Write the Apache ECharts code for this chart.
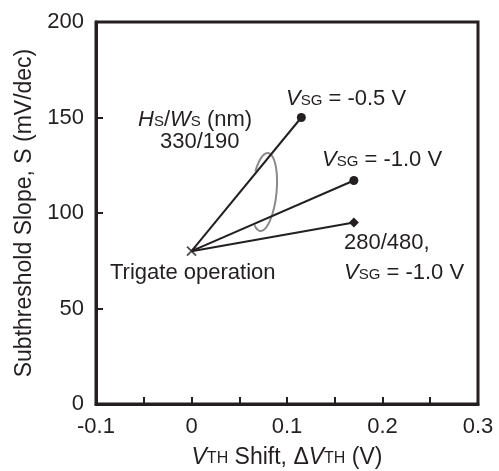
<!DOCTYPE html>
<html>
<head>
<meta charset="utf-8">
<script src="https://cdn.jsdelivr.net/npm/echarts@6/dist/echarts.min.js"></script>
<style>
  html, body { margin: 0; padding: 0; background: #fff; }
  #chart { width: 499px; height: 471px; }
</style>
</head>
<body>
<div id="chart"></div>
<script>
// tick labels
const xTicks = [-0.1, 0, 0.1, 0.2, 0.3]
const yTicks = [0, 50, 100, 150, 200]

// trigate operating point (VTH shift, S)
const trigate = [0, 80]

// back-gate results: 330/190 @ -0.5 V, 330/190 @ -1.0 V, 280/480 @ -1.0 V
const vthShift = [0.115, 0.17, 0.17]
const slope = [150, 117, 95]
const endSymbols = ['circle', 'circle', 'diamond']

// gray loop grouping the two 330/190 lines (data units)
const loopCenter = [0.076, 111]
const loopRadius = [0.013, 20.5]

const FONT = '"Liberation Sans", Arial, Helvetica, sans-serif'
const INK = '#231f20'
const FS = 22

function richOf(size) {
  return {
    i: { fontStyle: 'italic', fontSize: size, fontFamily: FONT, color: INK, fill: INK, verticalAlign: 'bottom' },
    s: { fontSize: Math.round(size * 0.68), fontFamily: FONT, color: INK, fill: INK, verticalAlign: 'bottom', padding: [0, 0, 2, 0] },
    n: { fontSize: size, fontFamily: FONT, color: INK, fill: INK, verticalAlign: 'bottom' }
  }
}

// text notes, pixel placement (left edge, vertical middle)
const notes = [
  { text: '{i|H}{s|S}{n|/}{i|W}{s|S}{n| (nm)}', x: 138, y: 120 },
  { text: '{n|330/190}', x: 160, y: 142 },
  { text: '{i|V}{s|SG}{n| = -0.5 V}', x: 286, y: 99 },
  { text: '{i|V}{s|SG}{n| = -1.0 V}', x: 322, y: 160 },
  { text: '{n|280/480,}', x: 344, y: 243 },
  { text: '{i|V}{s|SG}{n| = -1.0 V}', x: 344, y: 273 },
  { text: '{n|Trigate operation}', x: 110, y: 273 }
]

function tickLabel(list) {
  return function (v) {
    const hit = list.find(t => Math.abs(t - v) < 1e-9)
    return hit === undefined ? '' : String(hit)
  }
}

const lineSeries = vthShift.map((x, i) => ({
  type: 'line',
  z: 3,
  data: [
    { value: trigate, symbol: 'none' },
    { value: [x, slope[i]], symbol: endSymbols[i], symbolSize: endSymbols[i] === 'diamond' ? 10 : 9 }
  ],
  lineStyle: { color: INK, width: 2 },
  itemStyle: { color: INK },
  animation: false
}))

const option = {
  animation: false,
  grid: {
    left: 96, right: 21, top: 22, bottom: 67,
    show: true, borderColor: INK, borderWidth: 3,
    outerBoundsMode: 'none'
  },
  xAxis: {
    type: 'value',
    min: -0.1, max: 0.3, interval: 0.05,
    name: '{i|V}{s|TH}{n| Shift, Δ}{i|V}{s|TH}{n| (V)}',
    nameLocation: 'middle', nameGap: 42,
    nameTextStyle: { rich: richOf(23) },
    axisLine: { onZero: false, lineStyle: { color: INK, width: 3 } },
    axisTick: { inside: true, length: 7, lineStyle: { color: INK, width: 2 } },
    axisLabel: { formatter: tickLabel(xTicks), fontSize: FS, fontFamily: FONT, color: INK, margin: 12, showMinLabel: true, showMaxLabel: true },
    splitLine: { show: false }
  },
  yAxis: {
    type: 'value',
    min: 0, max: 200, interval: 50,
    name: 'Subthreshold Slope, S (mV/dec)',
    nameLocation: 'middle', nameGap: 59,
    nameTextStyle: { fontSize: 23, fontFamily: FONT, color: INK },
    axisLine: { onZero: false, lineStyle: { color: INK, width: 3 } },
    axisTick: { inside: true, length: 7, lineStyle: { color: INK, width: 2 } },
    axisLabel: { formatter: tickLabel(yTicks), fontSize: FS, fontFamily: FONT, color: INK, margin: 12 },
    splitLine: { show: false }
  },
  series: [
    {
      type: 'custom',
      z: 1,
      data: [loopCenter],
      renderItem: function (params, api) {
        const c = api.coord(loopCenter)
        const s = api.size(loopRadius)
        const tilt = 0.1
        const pts = []
        for (let a = -150; a <= 122; a += 3) {
          const t = a * Math.PI / 180
          const dx = s[0] * Math.cos(t)
          const dy = s[1] * Math.sin(t)
          pts.push([
            c[0] + dx * Math.cos(tilt) - dy * Math.sin(tilt),
            c[1] + dx * Math.sin(tilt) + dy * Math.cos(tilt)
          ])
        }
        return {
          type: 'polyline',
          shape: { points: pts },
          style: { stroke: '#8a8a8a', lineWidth: 2, fill: null }
        }
      },
      animation: false
    },
    ...lineSeries,
    {
      type: 'scatter',
      z: 4,
      data: [trigate],
      symbol: 'path://M0 0L10 10M10 0L0 10',
      symbolSize: 9,
      itemStyle: { color: 'none', borderColor: INK, borderWidth: 1.8 },
      animation: false
    }
  ],
  graphic: notes.map(n => ({
    type: 'text',
    x: n.x, y: n.y,
    z: 10,
    style: {
      text: n.text,
      fontSize: FS, fontFamily: FONT, fill: INK,
      verticalAlign: 'middle', align: 'left',
      rich: richOf(FS)
    }
  }))
}

const chart = echarts.init(document.getElementById('chart'))
chart.setOption(option)
</script>
</body>
</html>
